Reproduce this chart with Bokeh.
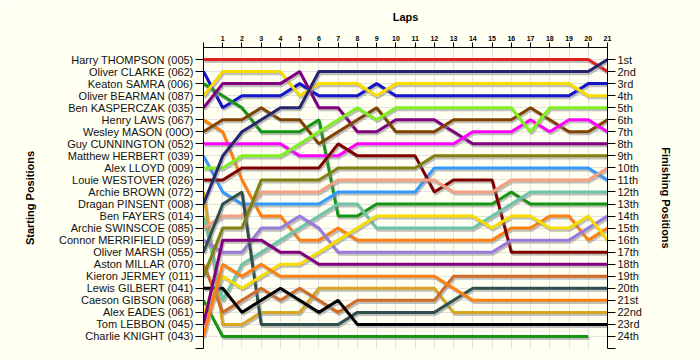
from bokeh.plotting import figure
from bokeh.models import Range1d, LinearAxis, FixedTicker
from bokeh.embed import file_html
from bokeh.resources import INLINE

laps = list(range(0, 22))
lap_labels = [str(i) for i in range(1, 22)]

drivers = ["Harry THOMPSON (005)", "Oliver CLARKE (062)", "Keaton SAMRA (006)", "Oliver BEARMAN (087)",
           "Ben KASPERCZAK (035)", "Henry LAWS (067)", "Wesley MASON (00O)", "Guy CUNNINGTON (052)",
           "Matthew HERBERT (039)", "Alex LLOYD (009)", "Louie WESTOVER (026)", "Archie BROWN (072)",
           "Dragan PINSENT (008)", "Ben FAYERS (014)", "Archie SWINSCOE (085)", "Connor MERRIFIELD (059)",
           "Oliver MARSH (055)", "Aston MILLAR (070)", "Kieron JERMEY (011)", "Lewis GILBERT (041)",
           "Caeson GIBSON (068)", "Alex EADES (061)", "Tom LEBBON (045)", "Charlie KNIGHT (043)"]

finish_labels = ["1st", "2nd", "3rd", "4th", "5th", "6th", "7th", "8th", "9th", "10th", "11th", "12th",
                 "13th", "14th", "15th", "16th", "17th", "18th", "19th", "20th", "21st", "22nd", "23rd", "24th"]

# position at each lap (lap 0 = grid)
thompson = [1, 1, 1, 1, 1, 1, 1, 1, 1, 1, 1, 1, 1, 1, 1, 1, 1, 1, 1, 1, 1, 2]
clarke = [2, 5, 4, 4, 4, 3, 4, 4, 4, 3, 4, 4, 4, 4, 4, 4, 4, 4, 4, 4, 3, 3]
samra = [3, 4, 5, 7, 7, 7, 6, 14, 14, 13, 13, 13, 13, 13, 13, 13, 12, 13, 13, 13, 13, 13]
bearman = [4, 2, 2, 2, 2, 4, 3, 3, 3, 4, 3, 3, 3, 3, 3, 3, 3, 3, 3, 3, 4, 4]
kasperczak = [5, 3, 3, 3, 3, 2, 5, 5, 7, 7, 6, 6, 6, 7, 8, 8, 8, 8, 8, 8, 8, 8]
laws = [6, 7, 11, 14, 14, 16, 16, 15, 16, 16, 16, 16, 16, 16, 16, 16, 15, 15, 14, 14, 16, 15]
mason = [7, 6, 6, 5, 6, 6, 8, 7, 6, 5, 7, 7, 7, 6, 6, 6, 6, 5, 6, 7, 7, 6]
cunnington = [8, 8, 8, 8, 8, 9, 9, 9, 8, 8, 8, 8, 8, 8, 7, 7, 7, 6, 7, 6, 6, 7]
herbert = [9, 12, 13, 13, 13, 13, 13, 12, 12, 12, 12, 12, 10, 10, 10, 10, 10, 10, 10, 10, 10, 11]
lloyd = [10, 10, 9, 9, 9, 8, 7, 6, 5, 6, 5, 5, 5, 5, 5, 5, 5, 7, 5, 5, 5, 5]
westover = [11, 11, 10, 10, 10, 10, 10, 8, 9, 9, 9, 9, 12, 11, 11, 11, 17, 17, 17, 17, 17, 17]
brown = [12, 23, 23, 22, 22, 22, 20, 20, 20, 20, 20, 20, 20, 22, 22, 22, 22, 22, 22, 22, 22, 22]
pinsent = [13, 9, 7, 6, 5, 5, 2, 2, 2, 2, 2, 2, 2, 2, 2, 2, 2, 2, 2, 2, 2, 1]
fayers = [14, 21, 18, 17, 16, 15, 14, 13, 13, 15, 15, 15, 15, 15, 15, 14, 13, 12, 12, 12, 12, 12]
swinscoe = [15, 14, 14, 12, 12, 12, 12, 11, 11, 11, 11, 11, 11, 12, 12, 12, 11, 11, 11, 11, 11, 10]
merrifield = [16, 17, 17, 15, 15, 14, 15, 17, 17, 17, 17, 17, 17, 17, 17, 17, 16, 16, 16, 16, 15, 14]
marsh = [17, 13, 12, 23, 23, 23, 23, 23, 22, 22, 22, 22, 22, 21, 20, 20, 20, 20, 20, 20, 20, 20]
millar = [18, 22, 21, 20, 21, 20, 21, 22, 21, 21, 21, 21, 21, 19, 19, 19, 19, 19, 19, 19, 19, 19]
jermey = [19, 15, 15, 11, 11, 11, 11, 10, 10, 10, 10, 10, 9, 9, 9, 9, 9, 9, 9, 9, 9, 9]
gilbert = [20, 20, 22, 21, 20, 21, 22, 21, 23, 23, 23, 23, 23, 23, 23, 23, 23, 23, 23, 23, 23, 23]
gibson = [21, 24, 24, 24, 24, 24, 24, 24, 24, 24, 24, 24, 24, 24, 24, 24, 24, 24, 24, 24, 24]
eades = [22, 19, 20, 19, 18, 18, 17, 16, 15, 14, 14, 14, 14, 14, 14, 15, 14, 14, 15, 15, 14, 16]
lebbon = [23, 16, 16, 16, 17, 17, 18, 18, 18, 18, 18, 18, 18, 18, 18, 18, 18, 18, 18, 18, 18, 18]
knight = [24, 18, 19, 18, 19, 19, 19, 19, 19, 19, 19, 19, 19, 20, 21, 21, 21, 21, 21, 21, 21, 21]

series = [thompson, clarke, samra, bearman, kasperczak, laws, mason, cunnington, herbert, lloyd,
          westover, brown, pinsent, fayers, swinscoe, merrifield, marsh, millar, jermey, gilbert,
          gibson, eades, lebbon, knight]

colors = ["#E02020", "#1414C8", "#149614", "#F8DC00", "#800080", "#FF8010", "#7F4200", "#FF00FF",
          "#3399FF", "#80F020", "#800000", "#DAA520", "#262670", "#6CC5A6", "#F5A080", "#9A7ADA",
          "#2F4F4F", "#D06C2A", "#808010", "#000000", "#149614", "#F8DC00", "#800080", "#FF8010"]

BG = "#FFFFF2"
FONT = "Liberation Sans"

p = figure(width=700, height=360, output_backend="svg", toolbar_location=None,
           x_range=Range1d(0, 21), y_range=Range1d(25, 0),
           x_axis_location="above", y_axis_location="left",
           min_border_left=203, min_border_right=93, min_border_top=47, min_border_bottom=12)
p.background_fill_color = BG
p.border_fill_color = BG
p.outline_line_color = None

# top axis (laps)
xa = p.xaxis[0]
xa.ticker = FixedTicker(ticks=laps)
xa.major_label_overrides = {0: ""}
xa.axis_label = "Laps"
xa.axis_label_text_font = FONT
xa.axis_label_text_font_style = "bold"
xa.axis_label_text_font_size = "11px"
xa.axis_label_text_color = "black"
xa.axis_label_standoff = 10
xa.major_label_text_font = FONT
xa.major_label_text_font_style = "bold"
xa.major_label_text_font_size = "7px"
xa.major_label_text_color = "black"
xa.major_label_standoff = 2
xa.major_tick_out = 5
xa.major_tick_in = 0
xa.minor_tick_line_color = None
xa.axis_line_color = "black"
xa.major_tick_line_color = "black"

ticks_y = list(range(1, 26))

ya = p.yaxis[0]
ya.ticker = FixedTicker(ticks=ticks_y)
ya.major_label_overrides = {**{i + 1: d for i, d in enumerate(drivers)}, 25: ""}
ya.axis_label = "Starting Positions"
ya.axis_label_standoff = 20

yr = LinearAxis(ticker=FixedTicker(ticks=ticks_y),
                major_label_overrides={**{i + 1: f for i, f in enumerate(finish_labels)}, 25: ""},
                axis_label="Finishing Positions", axis_label_standoff=15)
p.add_layout(yr, "right")

for ax in (ya, yr):
    ax.axis_label_text_font = FONT
    ax.axis_label_text_font_style = "bold"
    ax.axis_label_text_font_size = "11px"
    ax.axis_label_text_color = "black"
    ax.major_label_text_font = FONT
    ax.major_label_text_font_size = "11px"
    ax.major_label_text_color = "#111111"
    ax.major_label_standoff = 2
    ax.major_tick_out = 8
    ax.major_tick_in = 0
    ax.minor_tick_line_color = None
    ax.axis_line_color = "black"
    ax.major_tick_line_color = "black"

p.xgrid.ticker = FixedTicker(ticks=laps)
p.ygrid.ticker = FixedTicker(ticks=ticks_y)
p.xgrid.grid_line_color = "#E2E2E2"
p.ygrid.grid_line_color = "#E2E2E2"

for pos, col in zip(series, colors):
    xs = laps[:len(pos)]
    p.line([x + 0.06 for x in xs], [y + 0.17 for y in pos], line_color="#8C8C8C", line_alpha=0.55, line_width=3)
    p.line(xs, pos, line_color=col, line_width=3)

open("out.html", "w").write(file_html(p, INLINE))
